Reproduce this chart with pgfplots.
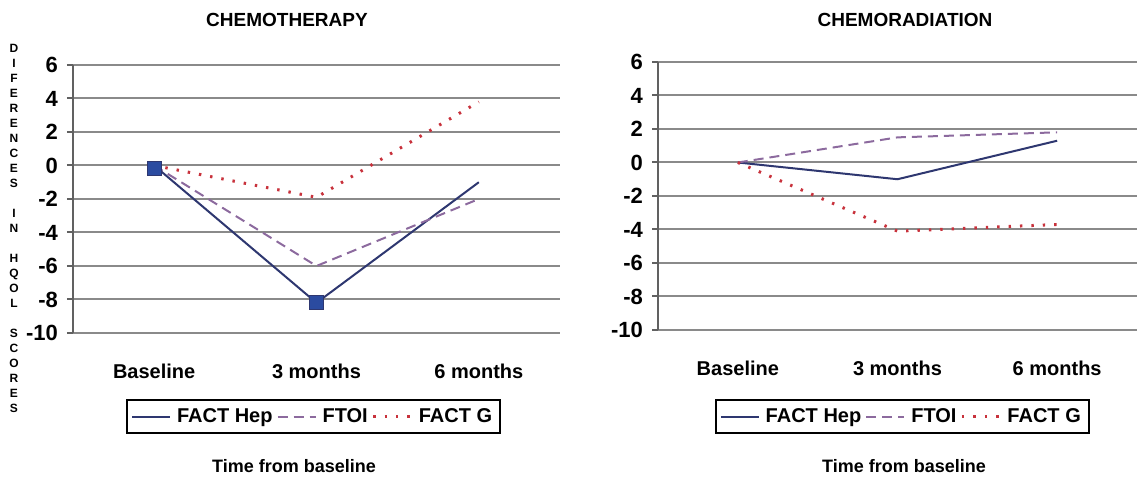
\documentclass[border=0pt]{standalone}
\usepackage{fontspec}
\setmainfont{Liberation Sans}
\usepackage{pgfplots}
\pgfplotsset{compat=1.18}
\definecolor{hep}{HTML}{2E3770}
\definecolor{ftoi}{HTML}{8C6A9E}
\definecolor{factg}{HTML}{C8323C}
\definecolor{mk}{HTML}{2B4BA0}
\definecolor{gridc}{HTML}{8A8A8A}
\begin{document}
\begin{tikzpicture}[x=1pt,y=1pt]
\path[use as bounding box] (0,0) rectangle (568.5,240);
\pgfplotsset{myax/.style={
  scale only axis,
  xmin=-0.5, xmax=2.5, ymin=-10, ymax=6,
  xtick={0,1,2}, xticklabels={Baseline,3 months,6 months},
  ytick={-10,-8,-6,-4,-2,0,2,4,6},
  axis lines*=left,
  x axis line style={draw=none},
  y axis line style={gridc!70!black, line width=1pt},
  ymajorgrids,
  grid style={gridc, line width=1pt},
  tick align=outside,
  major tick length=3pt,
  ytick style={gridc!70!black, line width=1pt},
  xtick style={draw=none},
  /pgf/number format/assume math mode=true,
  yticklabel style={font=\bfseries\fontsize{11}{13}\selectfont, xshift=-1pt},
  xticklabel style={font=\bfseries\fontsize{10}{12}\selectfont, yshift=-9pt},
  legend columns=3,
  legend style={anchor=center, draw=black, line width=0.8pt,
    font=\bfseries\fontsize{10}{12}\selectfont, inner xsep=2pt, inner ysep=2pt},
  legend image code/.code={\draw[#1] (0pt,0pt) -- (19pt,0pt);},
  /tikz/every odd column/.append style={column sep=1pt},
}}
\begin{axis}[myax, at={(36.5pt,73.5pt)}, anchor=south west, width=243.5pt, height=134pt,
  legend style={at={(0.494,-0.312)}}]
\addplot[hep, line width=1pt] coordinates {(0,0) (1,-8.2) (2,-1)};
\addlegendentry{FACT Hep}
\addplot[ftoi, line width=1pt, dash pattern=on 5pt off 3pt] coordinates {(0,0) (1,-6) (2,-2)};
\addlegendentry{FTOI}
\addplot[factg, line width=1.5pt, dash pattern=on 1.2pt off 4.5pt] coordinates {(0,0) (1,-1.9) (2,3.8)};
\addlegendentry{FACT G}
\addplot[only marks, mark=square*, mark size=3.5pt, mark options={fill=mk, draw=hep}, forget plot] coordinates {(0,-0.15) (1,-8.2)};
\end{axis}
\begin{axis}[myax, at={(329pt,75pt)}, anchor=south west, width=239.5pt, height=134pt,
  legend style={at={(0.510,-0.323)}}]
\addplot[hep, line width=1pt] coordinates {(0,0) (1,-1) (2,1.3)};
\addlegendentry{FACT Hep}
\addplot[ftoi, line width=1pt, dash pattern=on 5pt off 3pt] coordinates {(0,0) (1,1.5) (2,1.8)};
\addlegendentry{FTOI}
\addplot[factg, line width=1.5pt, dash pattern=on 1.2pt off 4.5pt] coordinates {(0,0) (1,-4.1) (2,-3.7)};
\addlegendentry{FACT G}
\end{axis}
\node[font=\bfseries\fontsize{9.5}{11}\selectfont] at (143.5,230) {CHEMOTHERAPY};
\node[font=\bfseries\fontsize{9.5}{11}\selectfont] at (452.5,230) {CHEMORADIATION};
\node[font=\bfseries\fontsize{9}{11}\selectfont] at (147,7) {Time from baseline};
\node[font=\bfseries\fontsize{9}{11}\selectfont] at (452,7) {Time from baseline};
\node[font=\bfseries\fontsize{6}{7.5}\selectfont, align=center, inner sep=0pt] at (7,126)
 {D\\I\\F\\E\\R\\E\\N\\C\\E\\S\\\mbox{}\\I\\N\\\mbox{}\\H\\Q\\O\\L\\\mbox{}\\S\\C\\O\\R\\E\\S};
\end{tikzpicture}
\end{document}
